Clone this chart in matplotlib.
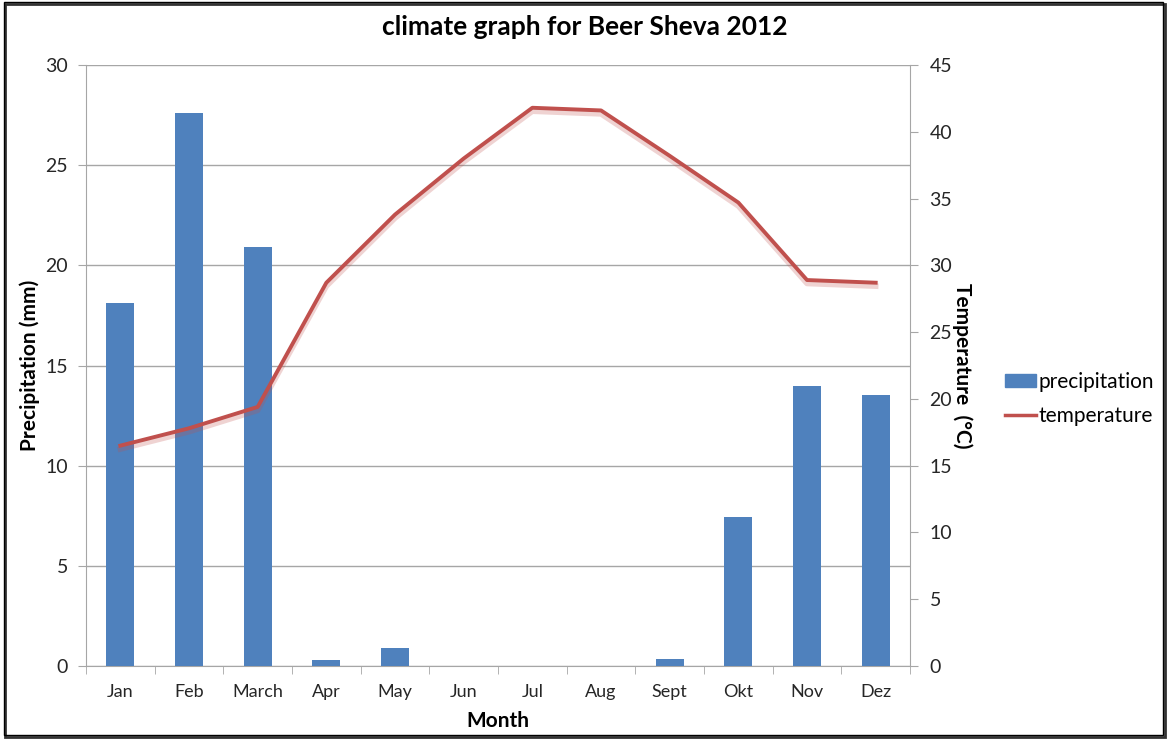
import matplotlib.pyplot as plt
import matplotlib.patheffects as pe
from matplotlib.patches import Rectangle
import numpy as np

plt.rcParams['font.family'] = ['Lato', 'DejaVu Sans']

months = ["Jan", "Feb", "March", "Apr", "May", "Jun", "Jul", "Aug", "Sept", "Okt", "Nov", "Dez"]
precipitation = [18.1, 27.6, 20.9, 0.3, 0.9, 0.0, 0.0, 0.0, 0.35, 7.45, 14.0, 13.55]
temperature = [16.5, 17.8, 19.4, 28.7, 33.8, 38.0, 41.8, 41.6, 38.2, 34.7, 28.9, 28.7]

bar_color = "#4F81BD"
line_color = "#C0504D"
grid_color = "#A6A6A6"
text_color = "#262626"

fig = plt.figure(figsize=(11.67, 7.39), dpi=100)

# frame round the whole chart, with a small drop shadow
fig.patches.append(Rectangle((0.0045, 0.003), 0.994, 0.992, transform=fig.transFigure,
                             fill=False, edgecolor="#333333", linewidth=2.0, zorder=0))
fig.patches.append(Rectangle((0.003, 0.005), 0.994, 0.992, transform=fig.transFigure,
                             fill=False, edgecolor="black", linewidth=1.0, zorder=1))

ax = fig.add_axes([0.0737, 0.0988, 0.7061, 0.8132])
x = np.arange(len(months))

ax.bar(x, precipitation, width=0.41, color=bar_color, zorder=3)
ax.set_xlim(-0.5, len(months) - 0.5)
ax.set_ylim(0, 30)
ax.set_yticks(range(0, 31, 5))
ax.grid(axis="y", color=grid_color, linewidth=1, zorder=0)
ax.set_axisbelow(True)

ax.set_xticks(x)
ax.set_xticklabels(months, fontsize=13, color=text_color)
ax.set_xticks(np.arange(-0.5, len(months)), minor=True)
ax.tick_params(axis="x", which="major", length=0, pad=13)
ax.tick_params(axis="x", which="minor", length=6, color=grid_color, direction="out")
ax.tick_params(axis="y", length=6, color=grid_color, labelsize=14, labelcolor=text_color, pad=7)

for side in ["top", "right"]:
    ax.spines[side].set_visible(False)
ax.spines["left"].set_color(grid_color)
ax.spines["bottom"].set_color(grid_color)

ax.set_ylabel("Precipitation (mm)", fontsize=15, fontweight="bold", va="center")
ax.yaxis.set_label_coords(-0.068, 0.5)
ax.set_xlabel("Month", fontsize=15, fontweight="bold", labelpad=8)

ax2 = ax.twinx()
ax2.plot(x, temperature, color=line_color, linewidth=2.8, zorder=4,
         path_effects=[pe.SimpleLineShadow(offset=(0, -2.5), shadow_color=line_color, alpha=0.25, linewidth=4),
                       pe.Normal()])
ax2.set_ylim(0, 45)
ax2.set_yticks(range(0, 46, 5))
ax2.tick_params(axis="y", length=6, color=grid_color, labelsize=14, labelcolor=text_color, pad=8)
for side in ["top", "left", "bottom"]:
    ax2.spines[side].set_visible(False)
ax2.spines["right"].set_color(grid_color)
ax2.set_ylabel("Temperature  (°C)", fontsize=15, fontweight="bold", rotation=-90, va="center")
ax2.yaxis.set_label_coords(1.063, 0.5)

fig.text(0.501, 0.963, "climate graph for Beer Sheva 2012", fontsize=19, fontweight="bold",
         ha="center", va="center")

handles = [Rectangle((0, 0), 1, 1, color=bar_color),
           plt.Line2D([0], [0], color=line_color, linewidth=2.5)]
fig.legend(handles, ["precipitation", "temperature"], loc="center left",
           bbox_to_anchor=(0.861, 0.46), frameon=False, fontsize=15,
           borderpad=0, borderaxespad=0, handlelength=1.5, handleheight=0.6,
           handletextpad=0.12, labelspacing=0.7)

fig.savefig("out.png", dpi=100)
